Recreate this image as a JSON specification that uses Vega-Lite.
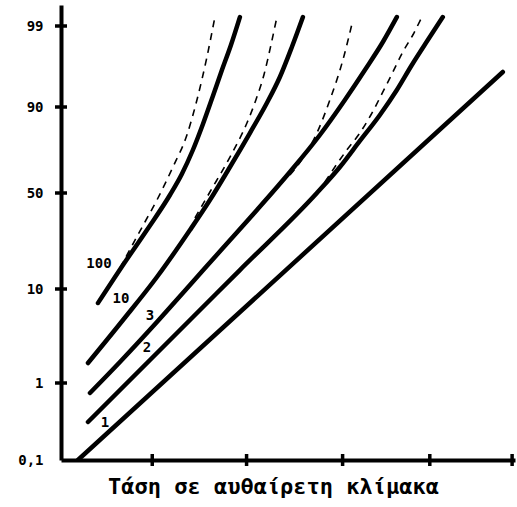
{
  "$schema": "https://vega.github.io/schema/vega-lite/v6.json",
  "width": 454,
  "height": 455,
  "autosize": {"type": "none"},
  "padding": {"left": 61, "top": 5, "right": 2, "bottom": 47},
  "background": "white",
  "config": {"view": {"stroke": null}},
  "datasets": {
    "solid": [
      {"curve": "1", "x": 0.188, "p": 0.1},
      {"curve": "1", "x": 4.895, "p": 93.89},
      {"curve": "2", "x": 0.299, "p": 0.544},
      {"curve": "2", "x": 0.986, "p": 3.2},
      {"curve": "2", "x": 1.429, "p": 7.03},
      {"curve": "2", "x": 1.982, "p": 17.9},
      {"curve": "2", "x": 2.835, "p": 50.0},
      {"curve": "2", "x": 3.09, "p": 62.1},
      {"curve": "2", "x": 3.311, "p": 74.2},
      {"curve": "2", "x": 3.533, "p": 86.3},
      {"curve": "2", "x": 3.721, "p": 91.89},
      {"curve": "2", "x": 3.887, "p": 94.67},
      {"curve": "2", "x": 4.064, "p": 97.44},
      {"curve": "2", "x": 4.23, "p": 99.34},
      {"curve": "3", "x": 0.321, "p": 0.883},
      {"curve": "3", "x": 0.653, "p": 3.011},
      {"curve": "3", "x": 1.063, "p": 6.84},
      {"curve": "3", "x": 1.429, "p": 11.67},
      {"curve": "3", "x": 1.794, "p": 27.08},
      {"curve": "3", "x": 2.171, "p": 42.92},
      {"curve": "3", "x": 2.536, "p": 59.77},
      {"curve": "3", "x": 2.868, "p": 76.98},
      {"curve": "3", "x": 3.145, "p": 90.78},
      {"curve": "3", "x": 3.367, "p": 94.11},
      {"curve": "3", "x": 3.566, "p": 97.22},
      {"curve": "3", "x": 3.721, "p": 99.34},
      {"curve": "10", "x": 0.299, "p": 2.915},
      {"curve": "10", "x": 0.687, "p": 7.032},
      {"curve": "10", "x": 1.063, "p": 15.0},
      {"curve": "10", "x": 1.429, "p": 34.58},
      {"curve": "10", "x": 1.65, "p": 47.08},
      {"curve": "10", "x": 1.872, "p": 62.09},
      {"curve": "10", "x": 2.093, "p": 77.9},
      {"curve": "10", "x": 2.281, "p": 90.44},
      {"curve": "10", "x": 2.425, "p": 93.33},
      {"curve": "10", "x": 2.558, "p": 96.67},
      {"curve": "10", "x": 2.68, "p": 99.34},
      {"curve": "100", "x": 0.41, "p": 8.66},
      {"curve": "100", "x": 0.687, "p": 20.0},
      {"curve": "100", "x": 0.952, "p": 34.58},
      {"curve": "100", "x": 1.207, "p": 49.17},
      {"curve": "100", "x": 1.339, "p": 58.84},
      {"curve": "100", "x": 1.461, "p": 70.0},
      {"curve": "100", "x": 1.573, "p": 82.1},
      {"curve": "100", "x": 1.683, "p": 91.22},
      {"curve": "100", "x": 1.783, "p": 94.11},
      {"curve": "100", "x": 1.883, "p": 96.89},
      {"curve": "100", "x": 1.982, "p": 99.34}
    ],
    "dashed": [
      {"curve": "2", "x": 2.924, "p": 55.12},
      {"curve": "2", "x": 3.034, "p": 62.09},
      {"curve": "2", "x": 3.167, "p": 70.0},
      {"curve": "2", "x": 3.311, "p": 77.91},
      {"curve": "2", "x": 3.433, "p": 86.28},
      {"curve": "2", "x": 3.566, "p": 91.67},
      {"curve": "2", "x": 3.677, "p": 93.89},
      {"curve": "2", "x": 3.787, "p": 96.11},
      {"curve": "2", "x": 3.898, "p": 98.0},
      {"curve": "2", "x": 3.998, "p": 99.34},
      {"curve": "3", "x": 2.536, "p": 58.37},
      {"curve": "3", "x": 2.68, "p": 66.28},
      {"curve": "3", "x": 2.835, "p": 77.91},
      {"curve": "3", "x": 2.979, "p": 90.78},
      {"curve": "3", "x": 3.123, "p": 95.22},
      {"curve": "3", "x": 3.234, "p": 99.23},
      {"curve": "10", "x": 1.484, "p": 39.58},
      {"curve": "10", "x": 1.65, "p": 50.47},
      {"curve": "10", "x": 1.872, "p": 66.74},
      {"curve": "10", "x": 2.06, "p": 82.56},
      {"curve": "10", "x": 2.159, "p": 90.78},
      {"curve": "10", "x": 2.248, "p": 93.56},
      {"curve": "10", "x": 2.326, "p": 96.89},
      {"curve": "10", "x": 2.392, "p": 99.34},
      {"curve": "100", "x": 0.653, "p": 18.75},
      {"curve": "100", "x": 0.797, "p": 28.75},
      {"curve": "100", "x": 0.93, "p": 37.92},
      {"curve": "100", "x": 1.063, "p": 47.08},
      {"curve": "100", "x": 1.24, "p": 62.09},
      {"curve": "100", "x": 1.395, "p": 76.98},
      {"curve": "100", "x": 1.506, "p": 90.78},
      {"curve": "100", "x": 1.617, "p": 95.56},
      {"curve": "100", "x": 1.705, "p": 99.34}
    ],
    "labels": [
      {"text": "100", "x": 0.421, "p": 20.42},
      {"text": "10", "x": 0.664, "p": 9.04},
      {"text": "3", "x": 0.986, "p": 7.415},
      {"text": "2", "x": 0.952, "p": 4.351},
      {"text": "1", "x": 0.487, "p": 0.532}
    ],
    "yticks": [{"p": 1}, {"p": 10}, {"p": 50}, {"p": 90}, {"p": 99}],
    "xticks": [{"x": 1.011}, {"x": 2.056}, {"x": 3.12}, {"x": 4.086}, {"x": 4.998}]
  },
  "layer": [
    {
      "data": {"name": "solid"},
      "mark": {"type": "line", "color": "black", "strokeWidth": 4.5, "strokeCap": "round", "strokeJoin": "round", "interpolate": "monotone", "clip": true},
      "encoding": {
        "x": {
          "field": "x", "type": "quantitative",
          "scale": {"domain": [0, 5.03], "nice": false, "zero": false},
          "axis": {
            "values": [1.011, 2.056, 3.12, 4.086, 4.998],
            "labels": false, "grid": false, "ticks": false,
            "domainColor": "black", "domainWidth": 4,
            "title": "Τάση σε αυθαίρετη κλίμακα",
            "titleFont": "DejaVu Sans Mono", "titleFontSize": 22, "titleFontWeight": "bold",
            "titleColor": "black", "titleX": 212, "titleY": 26, "titleBaseline": "middle", "titleAlign": "center"
          }
        },
        "y": {
          "field": "p", "type": "quantitative",
          "scale": {"domain": [0.1, 1, 10, 50, 90, 99, 99.8], "range": [455, 378, 284, 188, 102, 21, 0], "nice": false, "zero": false},
          "axis": {
            "values": [0.1, 1, 10, 50, 90, 99],
            "labelExpr": "datum.value == 0.1 ? '0,1' : datum.label",
            "grid": false, "title": null, "ticks": false,
            "domainColor": "black", "domainWidth": 4,
            "labelFont": "DejaVu Sans Mono", "labelFontSize": 14, "labelFontWeight": "bold",
            "labelColor": "black", "labelPadding": 18
          }
        },
        "detail": {"field": "curve"}
      }
    },
    {
      "data": {"name": "dashed"},
      "mark": {"type": "line", "color": "black", "strokeWidth": 1.6, "strokeDash": [7, 6], "interpolate": "monotone", "clip": true},
      "encoding": {
        "x": {"field": "x", "type": "quantitative"},
        "y": {"field": "p", "type": "quantitative"},
        "detail": {"field": "curve"}
      }
    },
    {
      "data": {"name": "labels"},
      "mark": {"type": "text", "font": "DejaVu Sans Mono", "fontSize": 14, "fontWeight": "bold", "color": "black"},
      "encoding": {
        "x": {"field": "x", "type": "quantitative"},
        "y": {"field": "p", "type": "quantitative"},
        "text": {"field": "text"}
      }
    },
    {
      "data": {"name": "yticks"},
      "mark": {"type": "tick", "orient": "horizontal", "color": "black", "size": 12, "thickness": 3.5, "opacity": 1},
      "encoding": {
        "x": {"datum": 0, "type": "quantitative"},
        "y": {"field": "p", "type": "quantitative"}
      }
    },
    {
      "data": {"name": "xticks"},
      "mark": {"type": "tick", "orient": "vertical", "color": "black", "size": 12, "thickness": 3.5, "opacity": 1},
      "encoding": {
        "x": {"field": "x", "type": "quantitative"},
        "y": {"datum": 0.1, "type": "quantitative"}
      }
    }
  ]
}
